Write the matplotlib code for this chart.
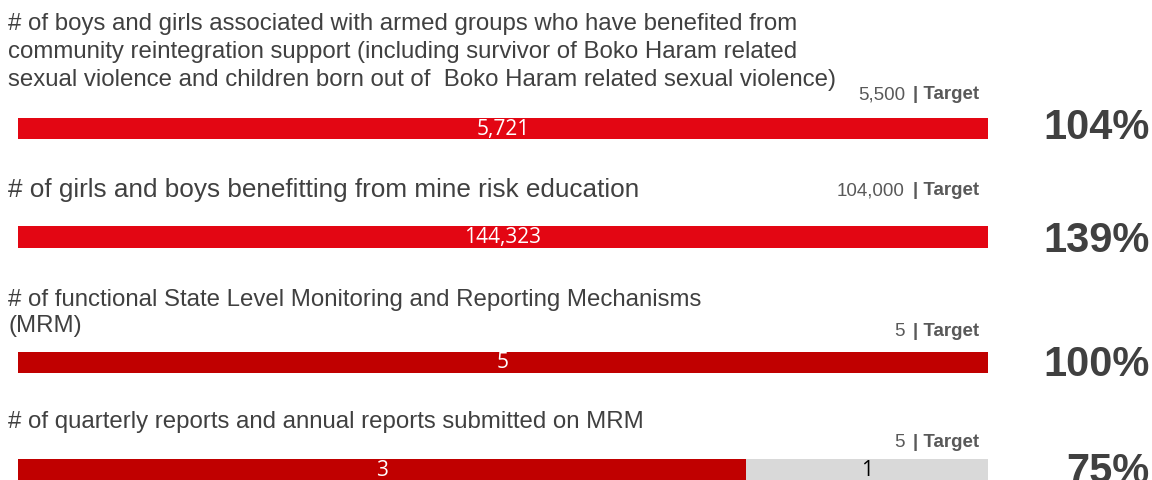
import matplotlib
matplotlib.use('Agg')
import matplotlib.pyplot as plt

titles = [
    ['# of boys and girls associated with armed groups who have benefited from',
     'community reintegration support (including survivor of Boko Haram related',
     'sexual violence and children born out of  Boko Haram related sexual violence)'],
    ['# of girls and boys benefitting from mine risk education'],
    ['# of functional State Level Monitoring and Reporting Mechanisms',
     '(MRM)'],
    ['# of quarterly reports and annual reports submitted on MRM'],
]
achieved = [5721, 144323, 5, 3]
remaining = [0, 0, 0, 1]
targets = ['5,500', '104,000', '5', '5']
percents = ['104%', '139%', '100%', '75%']
bar_colors = ['#E30613', '#E30613', '#C00000', '#C00000']

# layout in pixels (figure is 1152 x 480)
W, H = 1152, 480
bar_y = [128.5, 237, 362.5, 470]
title_y = [30, 197, 306, 428]   # baseline of first line
title_step = [28, 28, 26, 28]
title_size = [17.3, 18.8, 17.3, 17.3]
target_y = [99, 195, 336, 447]
pct_y = [139, 252, 376, 483]

fig = plt.figure(figsize=(11.52, 4.8), dpi=100)
ax = fig.add_axes([18 / W, 0, 970 / W, 1])
ax.set_xlim(0, 1)
ax.set_ylim(H, 0)
ax.axis('off')

def fx(px):
    return px / W

def fy(py):
    return 1 - py / H

text_col = '#404040'
grey_col = '#595959'

renderer = fig.canvas.get_renderer()

for i in range(4):
    total = achieved[i] + remaining[i]
    frac = 1.0 if remaining[i] == 0 else achieved[i] / total
    ax.barh(bar_y[i], frac, height=21.5, color=bar_colors[i], left=0)
    ax.text(frac / 2, bar_y[i] + 0.5, '{:,}'.format(achieved[i]), color='white',
            ha='center', va='center', fontsize=15, family='Open Sans')
    if remaining[i] > 0:
        ax.barh(bar_y[i], 1 - frac, height=21.5, color='#D9D9D9', left=frac)
        ax.text(frac + (1 - frac) / 2, bar_y[i] + 0.5, '{:,}'.format(remaining[i]),
                color='black', ha='center', va='center', fontsize=15,
                family='Open Sans')

    for k, line in enumerate(titles[i]):
        fig.text(fx(8), fy(title_y[i] + k * title_step[i]), line, ha='left',
                 va='baseline', fontsize=title_size[i], family='Liberation Sans',
                 color=text_col)

    lab = fig.text(fx(979), fy(target_y[i]), '| Target', ha='right',
                   va='baseline', fontsize=13.5, family='Liberation Sans',
                   weight='bold', color=grey_col)
    bb = lab.get_window_extent(renderer)
    fig.text(fx(bb.x0 - 8), fy(target_y[i]), targets[i], ha='right',
             va='baseline', fontsize=13.5, family='Liberation Sans',
             color=grey_col)

    fig.text(fx(1150), fy(pct_y[i]), percents[i], ha='right', va='baseline',
             fontsize=30, family='Liberation Sans', weight='bold',
             color=text_col)

fig.savefig('out.png', dpi=100)
